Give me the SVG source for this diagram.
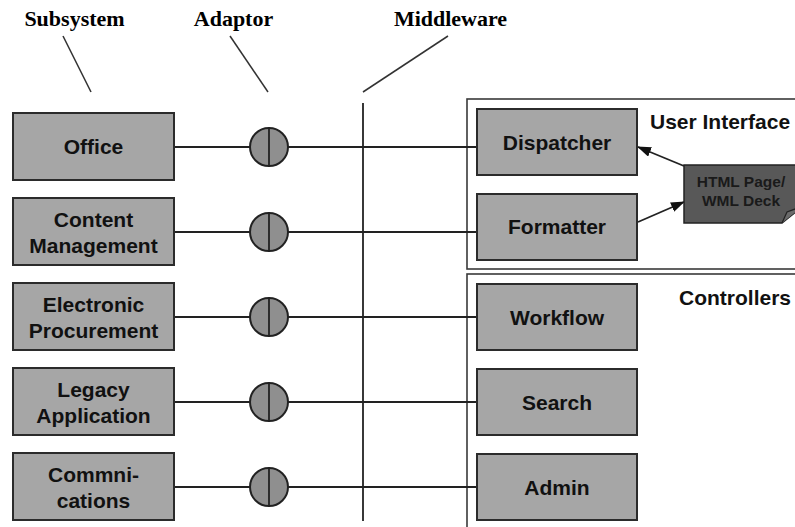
<svg xmlns="http://www.w3.org/2000/svg" width="795" height="527" viewBox="0 0 795 527">
  <style>
    .box { fill: #a6a6a6; stroke: #2b2b2b; stroke-width: 2; }
    .frame { fill: none; stroke: #3a3a3a; stroke-width: 1.6; }
    .wire { stroke: #222; stroke-width: 1.8; fill: none; }
    .leader { stroke: #333; stroke-width: 1.5; fill: none; }
    .adaptor { fill: #8f8f8f; stroke: #222; stroke-width: 2; }
    .lbl { font-family: "Liberation Sans", Arial, sans-serif; font-weight: bold; font-size: 21px; fill: #111; text-anchor: middle; }
    .hdr { font-family: "Liberation Serif", "Times New Roman", serif; font-weight: bold; font-size: 22px; fill: #000; text-anchor: middle; }
    .grp { font-family: "Liberation Sans", Arial, sans-serif; font-weight: bold; font-size: 21px; fill: #111; }
    .note { fill: #585858; stroke: #222; stroke-width: 1.5; }
    .notetxt { font-family: "Liberation Sans", Arial, sans-serif; font-weight: bold; font-size: 15.5px; fill: #1a1a1a; text-anchor: middle; }
  </style>
  <defs>
    <marker id="arrow" viewBox="0 0 14 10" refX="13" refY="5" markerWidth="14" markerHeight="10" markerUnits="userSpaceOnUse" orient="auto">
      <path d="M0,0 L14,5 L0,10 Z" fill="#111"/>
    </marker>
  </defs>

  <!-- column headings -->
  <g id="headings">
    <text class="hdr" x="74.5" y="26">Subsystem</text>
    <text class="hdr" x="233.5" y="26">Adaptor</text>
    <text class="hdr" x="450.5" y="26">Middleware</text>
    <line class="leader" x1="63" y1="36" x2="91" y2="92"/>
    <line class="leader" x1="230" y1="36" x2="268" y2="92"/>
    <line class="leader" x1="448" y1="36" x2="363" y2="92"/>
  </g>

  <!-- group frames -->
  <g id="user-interface">
    <rect class="frame" x="467" y="99" width="340" height="170"/>
    <text class="grp" x="650" y="129">User Interface</text>
  </g>
  <g id="controllers">
    <rect class="frame" x="467" y="274" width="340" height="270"/>
    <text class="grp" x="679" y="305">Controllers</text>
  </g>

  <!-- connectors -->
  <g id="connectors">
    <line class="wire" x1="363" y1="103" x2="363" y2="521"/>
    <line class="wire" x1="174" y1="147" x2="250" y2="147"/>
    <line class="wire" x1="288" y1="147" x2="477" y2="147"/>
    <line class="wire" x1="174" y1="232" x2="250" y2="232"/>
    <line class="wire" x1="288" y1="232" x2="477" y2="232"/>
    <line class="wire" x1="174" y1="317" x2="250" y2="317"/>
    <line class="wire" x1="288" y1="317" x2="477" y2="317"/>
    <line class="wire" x1="174" y1="402" x2="250" y2="402"/>
    <line class="wire" x1="288" y1="402" x2="477" y2="402"/>
    <line class="wire" x1="174" y1="487" x2="250" y2="487"/>
    <line class="wire" x1="288" y1="487" x2="477" y2="487"/>
    <line class="wire" x1="684" y1="166" x2="638" y2="147" marker-end="url(#arrow)"/>
    <line class="wire" x1="638" y1="222" x2="684" y2="202" marker-end="url(#arrow)"/>
  </g>

  <!-- subsystems -->
  <g id="office">
    <rect class="box" x="13" y="113" width="161" height="67"/>
    <text class="lbl" x="93.5" y="154">Office</text>
  </g>
  <g id="content-management">
    <rect class="box" x="13" y="198" width="161" height="67"/>
    <text class="lbl" x="93.5" y="227">Content</text>
    <text class="lbl" x="93.5" y="253">Management</text>
  </g>
  <g id="electronic-procurement">
    <rect class="box" x="13" y="283" width="161" height="67"/>
    <text class="lbl" x="93.5" y="312">Electronic</text>
    <text class="lbl" x="93.5" y="338">Procurement</text>
  </g>
  <g id="legacy-application">
    <rect class="box" x="13" y="368" width="161" height="67"/>
    <text class="lbl" x="93.5" y="397">Legacy</text>
    <text class="lbl" x="93.5" y="423">Application</text>
  </g>
  <g id="communications">
    <rect class="box" x="13" y="453" width="161" height="67"/>
    <text class="lbl" x="93.5" y="482">Commni-</text>
    <text class="lbl" x="93.5" y="508">cations</text>
  </g>

  <!-- adaptors -->
  <g id="adaptor-1"><circle class="adaptor" cx="269" cy="147" r="19"/><line class="wire" x1="269" y1="128" x2="269" y2="166"/></g>
  <g id="adaptor-2"><circle class="adaptor" cx="269" cy="232" r="19"/><line class="wire" x1="269" y1="213" x2="269" y2="251"/></g>
  <g id="adaptor-3"><circle class="adaptor" cx="269" cy="317" r="19"/><line class="wire" x1="269" y1="298" x2="269" y2="336"/></g>
  <g id="adaptor-4"><circle class="adaptor" cx="269" cy="402" r="19"/><line class="wire" x1="269" y1="383" x2="269" y2="421"/></g>
  <g id="adaptor-5"><circle class="adaptor" cx="269" cy="487" r="19"/><line class="wire" x1="269" y1="468" x2="269" y2="506"/></g>

  <!-- user interface components -->
  <g id="dispatcher">
    <rect class="box" x="477" y="109" width="160" height="66"/>
    <text class="lbl" x="557" y="150">Dispatcher</text>
  </g>
  <g id="formatter">
    <rect class="box" x="477" y="194" width="160" height="66"/>
    <text class="lbl" x="557" y="234">Formatter</text>
  </g>
  <g id="html-page">
    <path class="note" d="M684,165 H803 V206 L782,223 H684 Z"/>
    <path d="M782,223 L787,212 L803,206" fill="#6a6a6a" stroke="#222" stroke-width="1.2"/>
    <text class="notetxt" x="741" y="187">HTML Page/</text>
    <text class="notetxt" x="741" y="206">WML Deck</text>
  </g>

  <!-- controllers -->
  <g id="workflow">
    <rect class="box" x="477" y="284" width="160" height="66"/>
    <text class="lbl" x="557" y="325">Workflow</text>
  </g>
  <g id="search">
    <rect class="box" x="477" y="369" width="160" height="66"/>
    <text class="lbl" x="557" y="410">Search</text>
  </g>
  <g id="admin">
    <rect class="box" x="477" y="454" width="160" height="66"/>
    <text class="lbl" x="557" y="495">Admin</text>
  </g>
</svg>
